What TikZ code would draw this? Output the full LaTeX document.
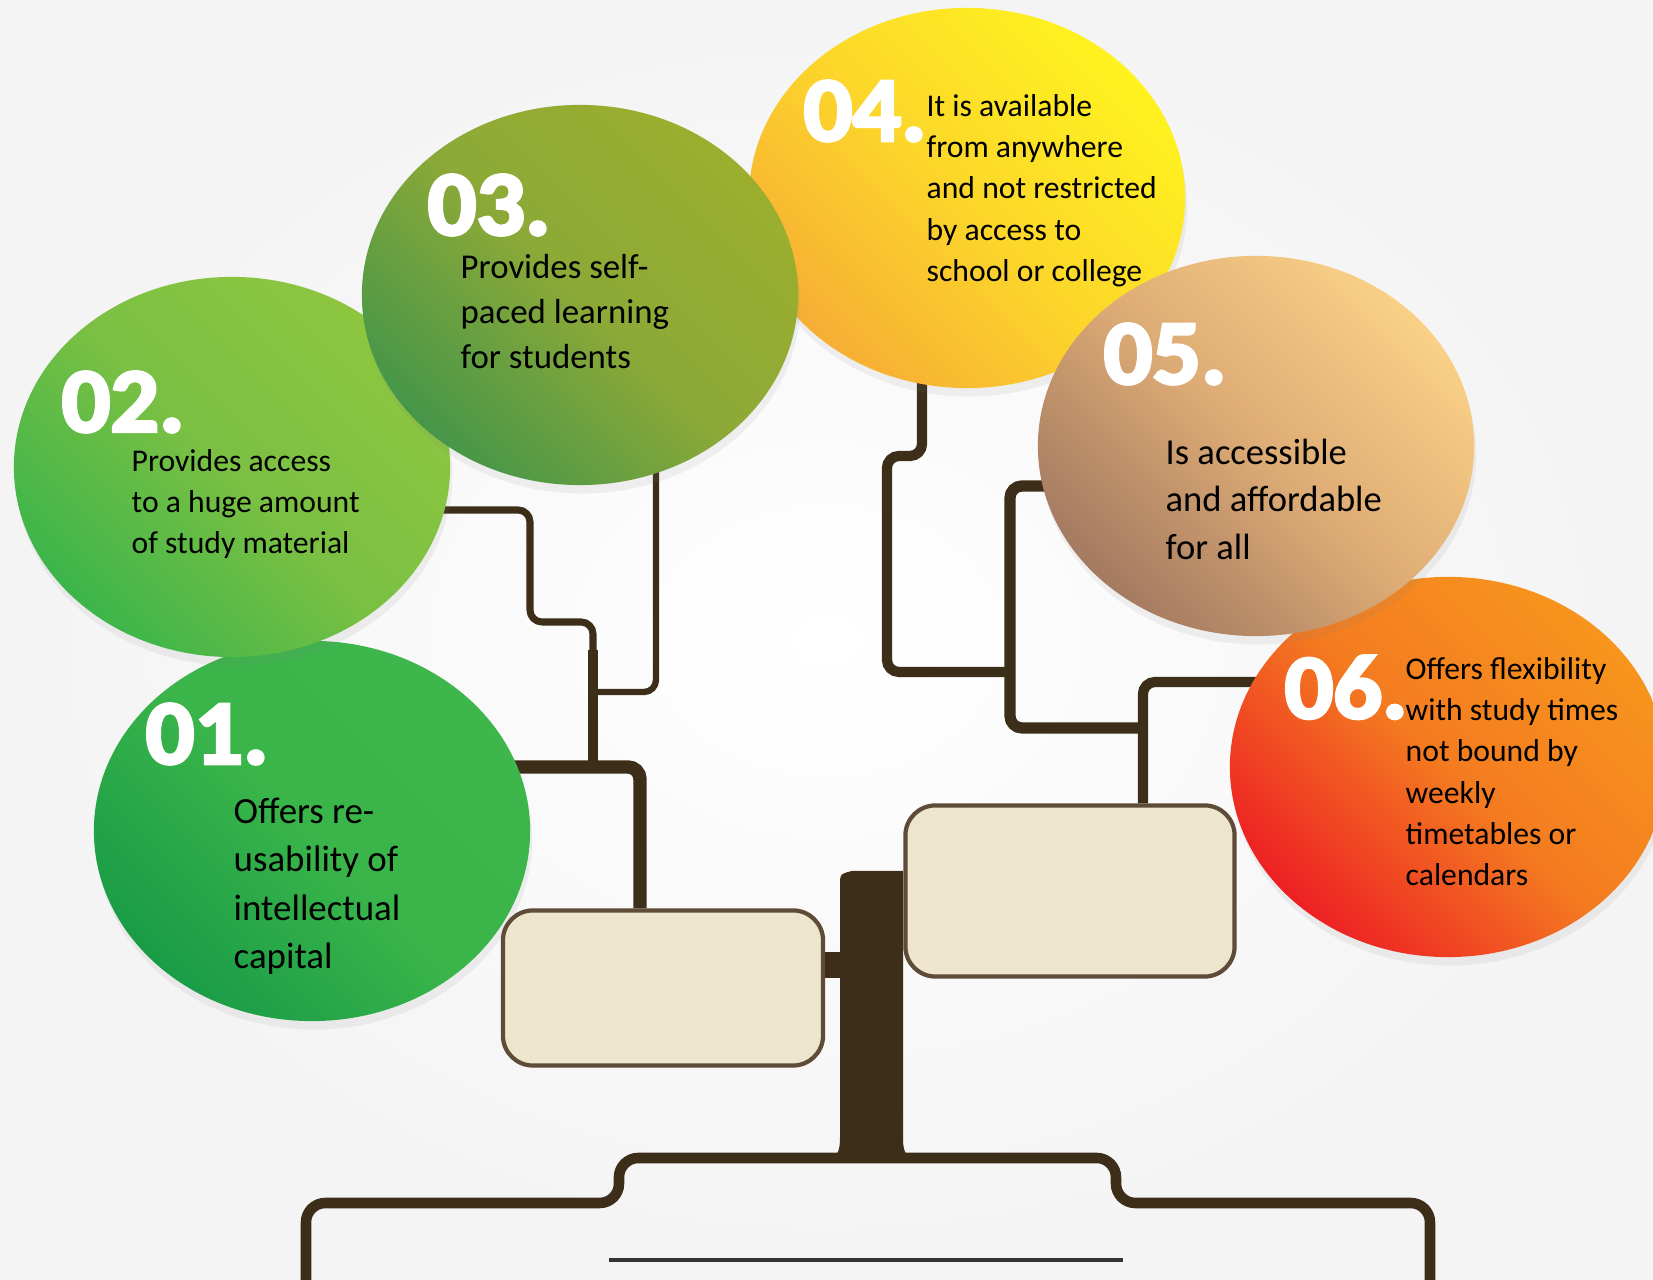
\documentclass[tikz,border=0pt]{standalone}
\usepackage{fontspec}
\setmainfont{Carlito}
\newfontfamily\numfont{Carlito}[BoldFeatures={FakeBold=3.5}]
\usetikzlibrary{shapes.geometric,shadows}
\definecolor{bark}{HTML}{3D2E1A}
\definecolor{boxfill}{HTML}{EDE6CD}
\definecolor{boxedge}{HTML}{5E4C38}
\definecolor{oneA}{HTML}{1A9C47}\definecolor{oneB}{HTML}{3AB54A}\definecolor{oneC}{HTML}{3DB64B}
\definecolor{twoA}{HTML}{3DB54A}\definecolor{twoB}{HTML}{7BC043}\definecolor{twoC}{HTML}{8DC63F}
\definecolor{thrA}{HTML}{469649}\definecolor{thrB}{HTML}{8CA937}\definecolor{thrC}{HTML}{9BAE2E}
\definecolor{fouA}{HTML}{F7AE35}\definecolor{fouB}{HTML}{FCD72A}\definecolor{fouC}{HTML}{FFF21F}
\definecolor{fivA}{HTML}{A47A61}\definecolor{fivB}{HTML}{DDAB75}\definecolor{fivC}{HTML}{FAD086}
\definecolor{sixA}{HTML}{ED2024}\definecolor{sixB}{HTML}{F47B20}\definecolor{sixC}{HTML}{F7951D}
\newcommand{\wide}[1]{\scalebox{1.05}[1]{#1}}
\pgfdeclarelayer{back}
\pgfdeclarelayer{twigs}
\pgfsetlayers{back,twigs,main}
\tikzset{
  leaf/.style n args={3}{ellipse, minimum width=4.36cm, minimum height=3.8cm,
    inner sep=0pt, bottom color=#1, top color=#3, middle color=#2,
    shading angle=-45,
    drop shadow={shadow xshift=0.6pt, shadow yshift=-2.4pt, opacity=0.1}},
  num/.style={anchor=north west, inner sep=0pt, text=white,
    font=\numfont\bfseries\fontsize{26}{26}\selectfont},
  blurb/.style={anchor=north west, inner sep=0pt, align=left, text=black},
  plaque/.style={draw=boxedge, fill=boxfill, line width=1.2pt,
    rounded corners=0.3cm, inner sep=0pt},
  twig/.style={draw=bark, line width=2pt, rounded corners=3.4pt},
  limb/.style={draw=bark, line width=2.9pt, rounded corners=3.4pt},
  bough/.style={draw=bark, line width=3.7pt}
}

\begin{document}
\begin{tikzpicture}[x=0.01cm, y=-0.01cm]
    \useasboundingbox (0,0) rectangle (1653,1280);
    \clip (0,0) rectangle (1653,1280);

    % Fondo
    \begin{pgfonlayer}{back}
      \shade[inner color=white, outer color=gray!9] (0,0) rectangle (1653,1280);
    \end{pgfonlayer}

    % Hojas
    \node[leaf={oneA}{oneB}{oneC}] (c01) at (312,831) {};
    \node[leaf={twoA}{twoB}{twoC}] (c02) at (232,467) {};
    \node[leaf={fouA}{fouB}{fouC}] (c04) at (967,198) {};
    \node[leaf={sixA}{sixB}{sixC}] (c06) at (1448,767) {};
    \node[leaf={thrA}{thrB}{thrC}] (c03) at (580,295) {};
    \node[leaf={fivA}{fivB}{fivC}] (c05) at (1256,446) {};

    % Numeros
    \node[num] (n01) at (145,703) {\wide{01.}};
    \node[num] (n02) at (61,371) {\wide{02.}};
    \node[num] (n03) at (427,174) {\wide{03.}};
    \node[num] (n04) at (803,80) {\wide{04.}};
    \node[num] (n05) at (1103,323) {\wide{05.}};
    \node[num] (n06) at (1284,655) {\wide{06.}};

    % Textos
    \node[blurb, font=\fontsize{10.5}{13.8}\selectfont] (t01) at (233,797)
      {Offers re-\\usability of\\intellectual\\capital};
    \node[blurb, font=\fontsize{9}{11.7}\selectfont] (t02) at (131,449)
      {Provides access\\to a huge amount\\of study material};
    \node[blurb, font=\fontsize{9.9}{12.8}\selectfont] (t03) at (460,254)
      {Provides self-\\paced learning\\for students};
    \node[blurb, font=\fontsize{9}{11.7}\selectfont] (t04) at (926,94)
      {It is available\\from anywhere\\and not restricted\\by access to\\school or college};
    \node[blurb, font=\fontsize{10.4}{13.5}\selectfont] (t05) at (1165,438)
      {Is accessible\\and affordable\\for all};
    \node[blurb, font=\fontsize{9}{11.7}\selectfont] (t06) at (1405,657)
      {Offers flexibility\\with study times\\not bound by\\weekly\\timetables or\\calendars};

    % Tronco
    \fill[bark] (826,1160) .. controls (838,1158) and (840,1150) .. (840,1138)
      -- (840,886) .. controls (840,874) .. (852,871) -- (903,871)
      -- (903,1138) .. controls (903,1150) and (905,1158) .. (917,1160) -- cycle;
    \coordinate (trunkL) at (845,965);

    % Cajas
    \node[plaque, minimum width=3.2cm, minimum height=1.55cm] (boxL) at (663,988) {};
    \node[plaque, minimum width=3.29cm, minimum height=1.71cm] (boxR) at (1070,891) {};
    \draw[bark, line width=7.4pt] (boxL.east |- trunkL) -- (trunkL);

    % Base
    \draw[bark, line width=3pt, rounded corners=5.5pt]
      (306,1300) -- (306,1203) -- (619,1203) -- (619,1158)
      -- (1116,1158) -- (1116,1203) -- (1430,1203) -- (1430,1300);
    \draw[black!80, line width=0.9pt] (609,1260) -- (1123,1260);

    % Ramas
    \coordinate (k02) at (593,767);
    \coordinate (k03) at (593,692);
    \coordinate (k04) at (1010,672);
    \coordinate (k05) at (1143,728);
    \begin{pgfonlayer}{twigs}
      \draw[limb, line width=3.8pt] (c01.center |- 0,767) -| (640,0 |- boxL.north);
      \draw[twig] (c02.center |- 0,510) -| (530,622) -| (k02);
      \draw[bough, line width=3pt] (593,650) -- (k02);
      \draw[twig, line width=1.8pt] (656,0 |- c03.center) |- (k03);
      \draw[limb] (922,0 |- c04.center) |- (887,456) |- (k04);
      \draw[limb, line width=3.2pt] (c05.center |- 0,486) -| (1010,728) -- (k05);
      \draw[limb] (c06.center |- 0,682) -| (1143,0 |- boxR.north);
    \end{pgfonlayer}
\end{tikzpicture}
\end{document}
